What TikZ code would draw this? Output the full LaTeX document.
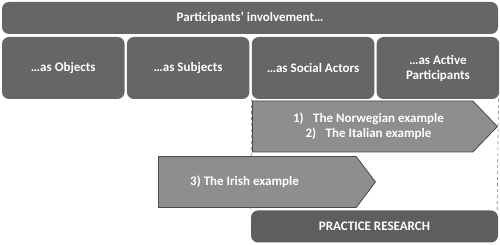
\documentclass[tikz,border=0pt]{standalone}
\usepackage{fontspec}
\setmainfont{Carlito}
\usetikzlibrary{positioning,calc,shapes.arrows}
\definecolor{slate}{HTML}{666666}
\definecolor{pewter}{HTML}{8E8E8E}
\definecolor{graphite}{HTML}{4A4A4A}
\definecolor{basalt}{HTML}{5E5E5E}

\tikzset{
  stagebox/.style={
    fill=slate,
    draw=none,
    rounded corners=7pt,
    text=white,
    font=\fontsize{13}{15}\selectfont\bfseries,
    align=center,
    inner sep=0pt
  },
  examplearrow/.style={
    single arrow,
    single arrow head extend=0pt,
    fill=pewter,
    draw=graphite,
    line width=0.8pt,
    minimum width=51pt,
    inner sep=0pt,
    anchor=west
  },
  exampletext/.style={
    text=white,
    font=\fontsize{13}{15}\selectfont\bfseries,
    align=center
  }
}

\begin{document}
\begin{tikzpicture}[x=1pt,y=-1pt]
        \useasboundingbox (0,0) rectangle (500,245);

        % header
        \node[stagebox, minimum width=496pt, minimum height=32pt] (header) at (250,18) {Participants’ involvement…};

        % involvement levels
        \node[stagebox, minimum width=122.5pt, minimum height=62pt] (objects) at (63.25,68) {…as Objects};
        \node[stagebox, minimum width=122.5pt, minimum height=62pt, right=2pt of objects] (subjects) {…as Subjects};
        \node[stagebox, minimum width=122.5pt, minimum height=62pt, right=2pt of subjects] (actors) {…as Social Actors};
        \node[stagebox, minimum width=122.5pt, minimum height=62pt, right=2pt of actors] (active) {…as Active\\Participants};

        % examples
        \node[examplearrow, single arrow tip angle=92, minimum height=245pt] (norway) at (252,126.5) {};
        \node[exampletext] (norwaytext) at ($(norway.west)+(116.5,0)$) {1)\enspace\ The Norwegian example\\2)\enspace\ The Italian example};
        \node[examplearrow, single arrow tip angle=106, minimum height=217pt] (ireland) at (158,182) {};
        \node[exampletext] (irelandtext) at ($(ireland.west)+(86.5,0)$) {3) The Irish example};

        % practice research
        \node[stagebox, fill=basalt, minimum width=247pt, minimum height=32pt] (practice) at (374.5,226.5) {PRACTICE RESEARCH};

        \draw[dashed, gray, line width=0.6pt] (actors.south west) -- (practice.north west);
        \draw[dashed, gray, line width=0.6pt] ([xshift=-1pt]active.south east) -- ([xshift=-1pt]practice.north east);
      \end{tikzpicture}
\end{document}
